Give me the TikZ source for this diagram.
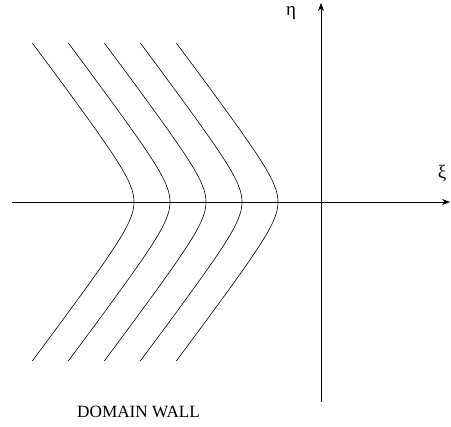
\documentclass[tikz,border=0pt]{standalone}
\usepackage{fontspec}
\setmainfont{Liberation Serif}
\usetikzlibrary{arrows.meta}
\begin{document}
\begin{tikzpicture}[x=1pt,y=-1pt,
  axis/.style={line width=0.7pt,-{Stealth[length=8pt,width=6pt]}},
  wall/.style={line width=0.6pt},
  lbl/.style={inner sep=0pt,font=\fontsize{19}{21}\selectfont}]
\useasboundingbox (0,0) rectangle (451,427);
\coordinate (xs) at (12,202);
\coordinate (xe) at (450,202);
\coordinate (ys) at (321,402);
\coordinate (ye) at (321,3);
\draw[axis] (xs) -- (xe);
\draw[axis] (ys) -- (ye);
\node[lbl] (eta) at (291,13) {η};
\node[lbl] (xi) at (442,174) {ξ};
\foreach \c in {154,190,226,262,298}{
  \draw[wall] plot[domain=-159:159,samples=120,smooth]
    ({\c-10*sqrt(4+(0.0755*\x)*(0.0755*\x))},{202+\x});
}
\node[inner sep=0pt,anchor=west,font=\fontsize{17.2}{19}\selectfont] (dw) at (77,412) {DOMAIN WALL};
\end{tikzpicture}
\end{document}
